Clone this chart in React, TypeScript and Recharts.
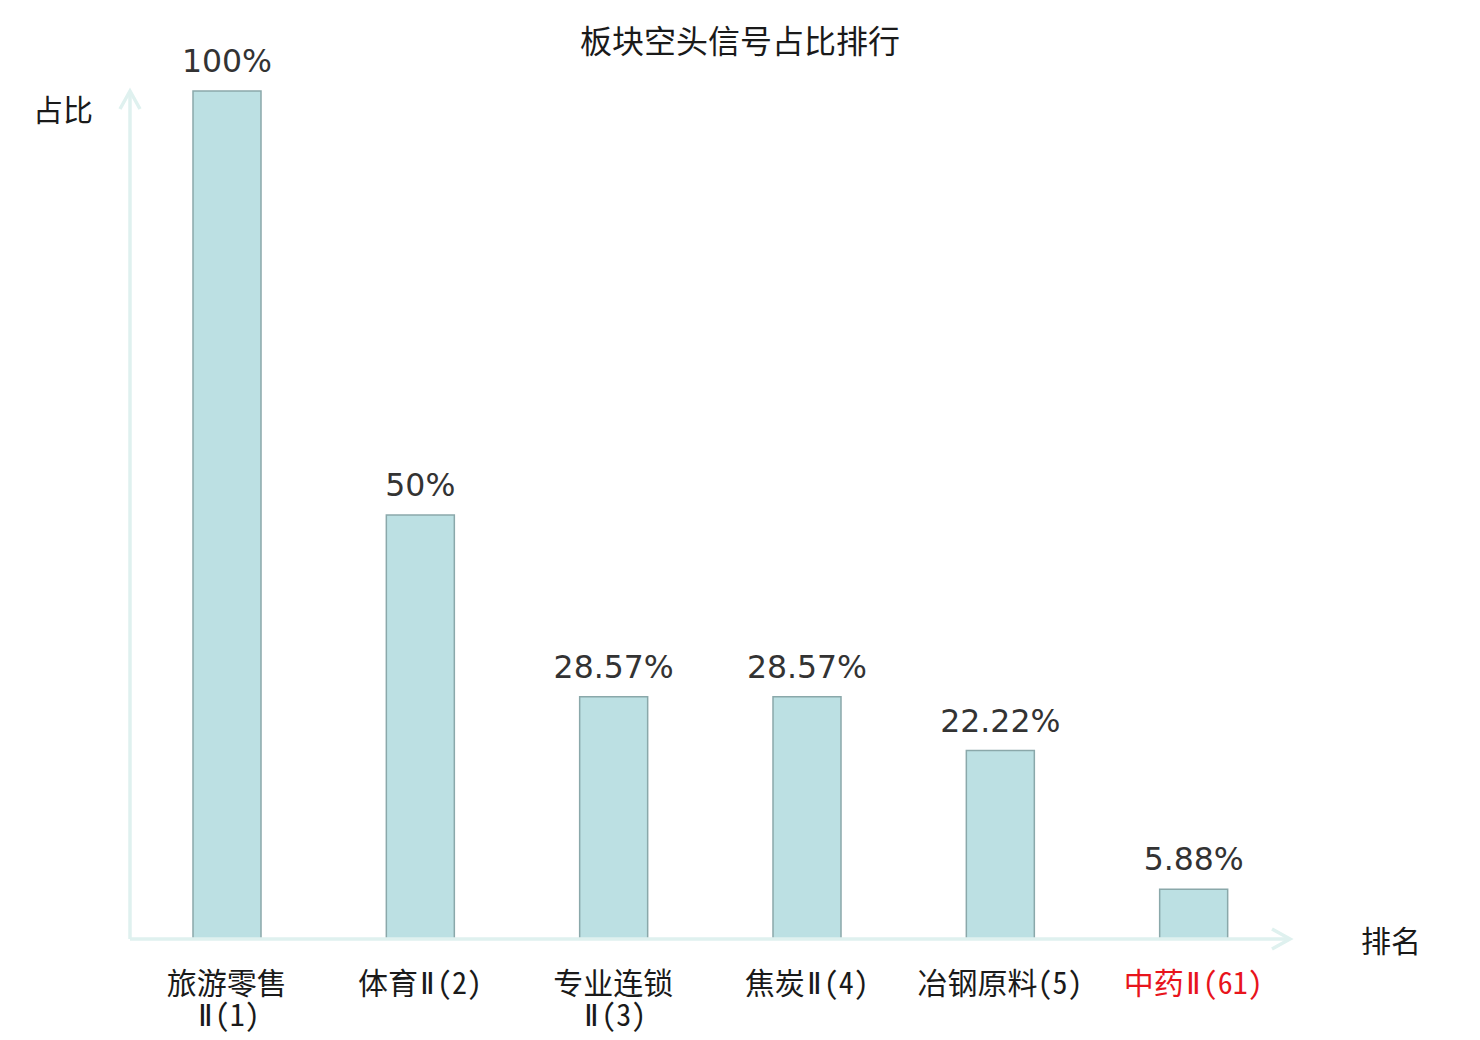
import { BarChart, Bar, XAxis, YAxis, LabelList } from "recharts";

const sectors = ["旅游零售Ⅱ(1)", "体育Ⅱ(2)", "专业连锁Ⅱ(3)", "焦炭Ⅱ(4)", "冶钢原料(5)", "中药Ⅱ(61)"];
const shares = [100, 50, 28.57, 28.57, 22.22, 5.88];
const highlighted = ["中药Ⅱ(61)"];

const data = sectors.map((name, i) => ({ name, share: shares[i] }));

const CJK = "'Noto Sans Mono CJK SC', 'Noto Sans CJK SC', sans-serif";
const AXIS_COLOR = "#dff1ef";

function fmt(v: number) {
  return `${v}%`;
}

// the roman numeral is drawn narrow, like the source
function pieces(line: string) {
  return line.split(/(Ⅱ)/).filter((s) => s.length > 0).map((s, i) =>
    s === "Ⅱ" ? (
      <tspan key={i} dx={2} fontFamily="'Noto Sans', sans-serif" fontWeight={300}>
        {s}
      </tspan>
    ) : (
      <tspan key={i} dx={i > 0 ? 2 : 0}>{s}</tspan>
    )
  );
}

// long names wrap after the first four characters
function SectorTick(props: any) {
  const { x, y, payload } = props;
  const name: string = payload.value;
  const lines = name.length > 7 ? [name.slice(0, 4), name.slice(4)] : [name];
  const color = highlighted.includes(name) ? "#e8141c" : "#1a1a1a";
  return (
    <g>
      {lines.map((l, i) => (
        <text key={i} x={x} y={y + 47 + i * 32} textAnchor="middle" fill={color} fontSize={30} fontFamily={CJK}>
          {pieces(l)}
        </text>
      ))}
    </g>
  );
}

export default function App() {
  return (
    <div style={{ position: "absolute", left: 0, top: 0, width: 1480, height: 1040, background: "#fff" }}>
      <BarChart
        width={1480}
        height={1040}
        data={data}
        margin={{ top: 91, right: 190, left: 129, bottom: 0 }}
      >
        <defs>
          <marker
            id="axisArrow"
            markerUnits="userSpaceOnUse"
            markerWidth={30}
            markerHeight={30}
            refX={20}
            refY={12}
            orient="auto-start-reverse"
            viewBox="0 0 30 30"
          >
            <path d="M2,2 L20,12 L2,22" fill="none" stroke={AXIS_COLOR} strokeWidth={3.5} />
          </marker>
        </defs>
        <text x={740} y={53} textAnchor="middle" fontSize={32} fontFamily={CJK} fill="#1a1a1a">
          板块空头信号占比排行
        </text>
        <text x={63} y={121} textAnchor="middle" fontSize={30} fontFamily={CJK} fill="#1a1a1a">
          占比
        </text>
        <text x={1391} y={952} textAnchor="middle" fontSize={30} fontFamily={CJK} fill="#1a1a1a">
          排名
        </text>
        <XAxis
          dataKey="name"
          height={101}
          interval={0}
          tickLine={false}
          tick={<SectorTick />}
          axisLine={{ stroke: AXIS_COLOR, strokeWidth: 3.5, markerEnd: "url(#axisArrow)" }}
        />
        <YAxis
          width={1}
          domain={[0, 100]}
          tick={false}
          tickLine={false}
          axisLine={{ stroke: AXIS_COLOR, strokeWidth: 3.5, markerStart: "url(#axisArrow)" }}
        />
        <Bar dataKey="share" barSize={68} fill="#bce0e3" stroke="#8aa8aa" strokeWidth={1.5} isAnimationActive={false}>
          <LabelList
            dataKey="share"
            position="top"
            offset={19}
            formatter={fmt}
            fill="#333"
            fontSize={31.5}
            fontFamily="'DejaVu Sans', sans-serif"
          />
        </Bar>
      </BarChart>
    </div>
  );
}
